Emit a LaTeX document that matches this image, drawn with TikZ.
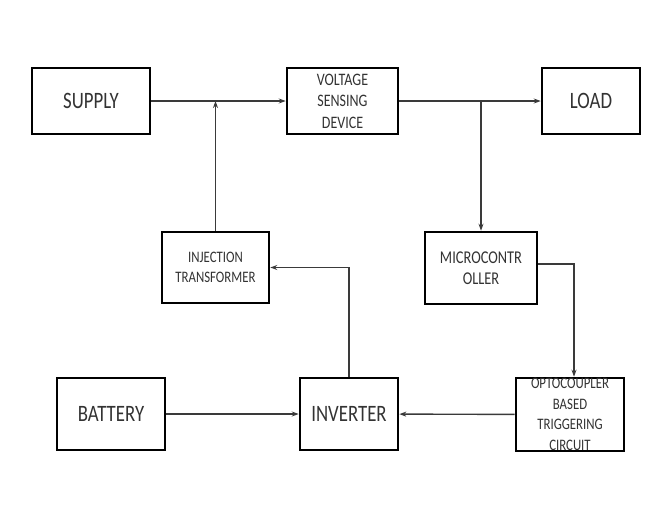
\documentclass[tikz,border=0pt]{standalone}
\usepackage{fontspec}
\setmainfont{Carlito}
\newfontfamily\narrowfont[FakeStretch=0.8]{Carlito}
\usetikzlibrary{arrows.meta,positioning,calc}
\definecolor{labelgray}{HTML}{333333}
\definecolor{wiregray}{HTML}{3A3A3A}
\tikzset{
  >=Stealth,
  block/.style={
    rectangle, draw=black, line width=2.6pt, inner sep=0pt,
    align=center, text=labelgray
  },
  bigblock/.style={block, font=\narrowfont\fontsize{23.5}{26}\selectfont},
  smallblock/.style={block, font=\narrowfont\fontsize{16}{20.5}\selectfont},
  link/.style={-{Stealth[length=7pt,width=5pt]}, line width=1.4pt, draw=wiregray}
}

\begin{document}
\begin{tikzpicture}[x=1pt,y=-1pt]
\useasboundingbox (0,0) rectangle (645,523);
% top row
\node[bigblock, minimum width=118pt, minimum height=66pt] (supply) at (91,101) {SUPPLY};
\node[smallblock, minimum width=111pt, minimum height=66pt, font=\narrowfont\fontsize{17.5}{21.5}\selectfont] (sensor) at (342.5,101) {VOLTAGE\\SENSING\\DEVICE};
\node[bigblock, minimum width=98pt, minimum height=66pt] (load) at (591,101) {LOAD};
% middle row
\node[smallblock, minimum width=107pt, minimum height=71pt, font=\narrowfont\fontsize{16}{20}\selectfont] (injection) at (215.5,267.5) {INJECTION\\TRANSFORMER};
\node[smallblock, minimum width=112pt, minimum height=72pt, font=\narrowfont\fontsize{18}{21}\selectfont] (micro) at (481,268) {MICROCONTR\\OLLER};
% bottom row
\node[bigblock, minimum width=108pt, minimum height=72pt] (battery) at (111,414) {BATTERY};
\node[bigblock, minimum width=98pt, minimum height=72pt] (inverter) at (349,414) {INVERTER};
\node[smallblock, minimum width=108pt, minimum height=73pt] (opto) at (570,414.5) {OPTOCOUPLER\\BASED\\TRIGGERING\\CIRCUIT};
% connectors
\draw[link] (supply) -- (sensor);
\draw[link] (injection.north) -- (injection.north |- supply.east);
\draw[link] (sensor) -- (load);
\draw[link] (micro.north |- sensor.east) -- (micro.north);
\draw[link] ([yshift=4pt]micro.east) -| ([xshift=4pt]opto.north);
\draw[link] (battery) -- (inverter);
\draw[link] (opto) -- (inverter);
\draw[link] (inverter.north) |- (injection.east);
\end{tikzpicture}
\end{document}
